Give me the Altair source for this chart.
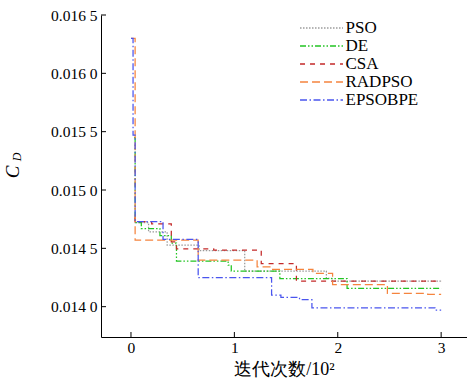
import altair as alt
import pandas as pd

series = ["PSO", "DE", "CSA", "RADPSO", "EPSOBPE"]
colors = ["#9a9a9a", "#22c422", "#c42a2a", "#f5843e", "#4a55ee"]
dashes = [[1.5, 1.5], [6, 2, 1.5, 2, 1.5, 2], [5, 5], [8, 4], [7, 2.5, 1.5, 2.5]]

# iterations (x 10^2) and C_D values, step series
pso_x = [0.03, 0.04, 0.17, 0.35, 0.66, 1.10, 1.89, 1.95, 3.0]
pso_y = [0.01474, 0.01472, 0.014641, 0.014528, 0.01448, 0.014305, 0.014242, 0.01422, 0.01422]

de_x = [0.03, 0.04, 0.10, 0.28, 0.39, 0.44, 0.94, 0.97, 1.44, 2.09, 3.0]
de_y = [0.01545, 0.01472, 0.01467, 0.01461, 0.014545, 0.01439, 0.014356, 0.014305, 0.01424, 0.014156, 0.014156]

csa_x = [0.03, 0.04, 0.20, 0.39, 0.44, 0.80, 1.26, 1.60, 3.0]
csa_y = [0.01476, 0.01473, 0.01471, 0.014556, 0.014496, 0.014485, 0.01437, 0.01422, 0.01422]

rad_x = [0.0, 0.04, 0.65, 1.22, 1.37, 1.76, 1.95, 2.48, 2.87, 3.0]
rad_y = [0.01630, 0.01457, 0.01440, 0.014342, 0.01432, 0.014285, 0.01419, 0.014113, 0.014105, 0.014105]

eps_x = [0.0, 0.02, 0.04, 0.31, 0.65, 1.36, 1.45, 1.63, 1.75, 2.94, 3.0]
eps_y = [0.01630, 0.01547, 0.01473, 0.014576, 0.01425, 0.01410, 0.01408, 0.01406, 0.01399, 0.01397, 0.01397]

x_ticks = [0, 1, 2, 3]
y_ticks = [0.0140, 0.0145, 0.0150, 0.0155, 0.0160, 0.0165]

rows = []
for name, xs_, ys_ in zip(series, [pso_x, de_x, csa_x, rad_x, eps_x], [pso_y, de_y, csa_y, rad_y, eps_y]):
    for i, (a, b) in enumerate(zip(xs_, ys_)):
        rows.append({"alg": name, "it": a, "cd": b, "k": i})
df = pd.DataFrame(rows)

FONT = "Liberation Serif, Times New Roman, serif"
xs = alt.Scale(domain=[-0.29, 3.25], nice=False, zero=False)
ys = alt.Scale(domain=[0.01374, 0.0165], nice=False, zero=False)

leg = dict(orient="none", legendX=212, legendY=4.5, title=None, symbolType="M-3,0L3,0",
           symbolSize=205, symbolStrokeWidth=1.5, labelFont=FONT, labelFontSize=17,
           labelColor="black", rowPadding=0, labelOffset=15.5, symbolOpacity=1)

lines = alt.Chart(df).mark_line(interpolate="step-after", strokeWidth=1.25).encode(
    x=alt.X("it:Q", scale=xs, axis=alt.Axis(values=x_ticks, format="d", title="迭代次数/10²", labelFontSize=15.5,
                                             titleFontSize=18, titleFont=FONT, titleFontWeight="normal",
                                             labelPadding=3, titlePadding=5)),
    y=alt.Y("cd:Q", scale=ys, axis=alt.Axis(values=y_ticks, title=None, labelFontSize=15.5, labelPadding=4,
                                             labelExpr="slice(format(datum.value,'.4f'),0,5) + ' ' + slice(format(datum.value,'.4f'),5)")),
    color=alt.Color("alg:N", scale=alt.Scale(domain=series, range=colors), legend=alt.Legend(**leg)),
    strokeDash=alt.StrokeDash("alg:N", scale=alt.Scale(domain=series, range=dashes), legend=alt.Legend(**leg)),
    order="k:Q",
)

xt = alt.Chart(pd.DataFrame({"it": x_ticks})).mark_rule(color="black", strokeWidth=1).encode(
    x=alt.X("it:Q", scale=xs), y=alt.value(322), y2=alt.value(317))
yt = alt.Chart(pd.DataFrame({"cd": y_ticks})).mark_rule(color="black", strokeWidth=1).encode(
    y=alt.Y("cd:Q", scale=ys), x=alt.value(0), x2=alt.value(5))

one = pd.DataFrame({"a": [0]})
c_lab = alt.Chart(one).mark_text(text="C", font=FONT, fontStyle="italic", fontSize=19,
                                 angle=270, color="black").encode(x=alt.value(-88), y=alt.value(157))
d_lab = alt.Chart(one).mark_text(text="D", font=FONT, fontStyle="italic", fontSize=12,
                                 angle=270, color="black").encode(x=alt.value(-84), y=alt.value(142))

chart = alt.layer(lines, xt, yt, c_lab, d_lab).properties(
    width=366, height=322, autosize="none",
    padding={"left": 101, "top": 15, "right": 0, "bottom": 47},
).configure_view(stroke=None).configure_axis(
    grid=False, domainColor="black", domainWidth=1, tickSize=0, labelFont=FONT, labelColor="black",
    titleColor="black", titleFont=FONT,
)

chart.save("out.html", embed_options={"renderer": "svg", "actions": False})
